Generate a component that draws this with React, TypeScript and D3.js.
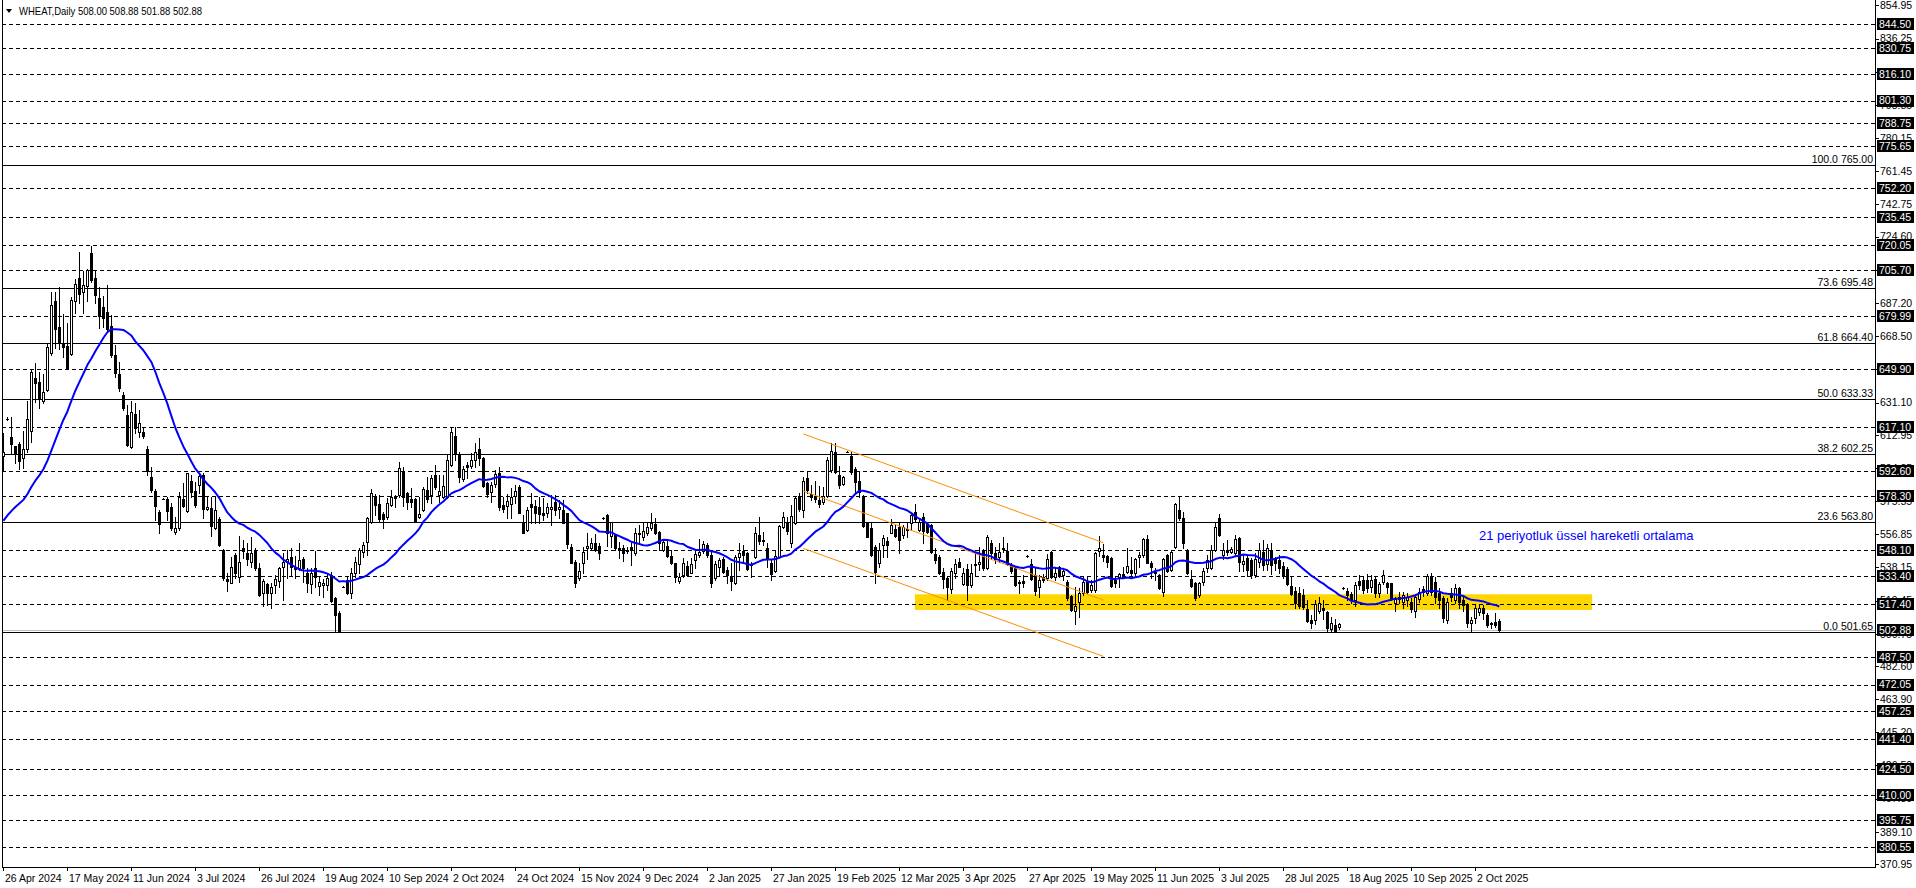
import React from "react";
import * as d3 from "d3";

// ---------------- DATA ----------------
// closes of the 20 bars before the first visible bar (needed by the 21-bar average)
const PRE_CLOSE = [560, 556, 552, 558, 561, 555, 562, 568, 570, 565, 563, 566, 548, 542, 545, 553, 560, 578, 590, 598];

const OPEN = [
601,621.8,611.5,606.4,607.7,599.6,604.9,615.2,644.9,642.5,
632.0,638.2,658.8,688.2,673.5,664.9,663.0,658.3,688.5,701.1,
693.6,696.8,715.2,701.1,689.8,685.1,682.3,674.2,657.9,647.2,
635.4,624.1,606.2,624.6,614.3,614.5,604.7,588.9,581.2,569.2,
576.9,576.5,572.0,558.1,560.2,576.5,570.2,587.1,581.2,584.6,
590.1,570.9,571.5,560.2,565.3,548.0,531.4,529.6,545.2,532.9,
548.9,546.1,541.4,547.6,537.6,523.9,528.6,523.5,528.2,530.7,
538.6,541.4,543.8,538.2,537.6,542.7,535.2,528.6,537.6,527.7,
528.3,528.3,533.9,520.7,512.6,527.3,531.1,523.5,534.8,540.1,
547.0,552.7,564.0,578.0,573.9,568.3,566.8,573.4,578.0,579.0,
592.1,579.9,576.7,576.5,566.4,570.5,581.8,579.0,590.3,579.0,
578.0,578.0,595.9,612.2,602.1,587.8,595.9,595.3,598.7,604.7,
599.7,585.6,580.9,585.2,591.6,573.4,572.8,573.9,578.4,583.3,
563.4,559.3,573.9,572.8,572.0,569.0,569.0,570.9,575.2,570.9,
570.5,568.7,549.9,541.4,532.0,540.8,549.3,548.9,552.1,550.2,
565.8,567.7,555.9,556.4,549.0,548.9,548.0,549.9,546.1,556.8,
555.5,557.8,560.2,562.6,558.3,548.0,550.2,544.6,540.5,530.7,
533.9,539.0,535.2,542.3,545.2,547.6,550.8,545.2,532.0,538.2,
542.7,536.7,532.9,529.2,544.2,547.6,546.1,540.1,543.8,556.4,
553.6,548.9,540.5,536.3,544.2,560.8,563.9,552.1,563.0,578.4,
570.5,588.4,579.5,578.4,576.2,575.2,578.4,593.1,603.4,590.3,
585.2,603.4,601.0,593.5,587.1,578.4,563.0,560.2,549.9,540.5,
550.8,553.2,557.8,559.6,561.1,556.4,559.3,563.0,569.6,559.3,
566.8,562.6,562.1,545.7,544.2,535.8,532.0,525.8,535.2,541.4,
528.8,537.1,528.3,540.1,540.1,547.6,537.6,552.1,546.1,544.2,
548.3,547.6,539.5,537.6,529.2,530.5,544.6,540.1,533.9,526.9,
532.9,532.0,547.0,532.9,538.2,533.9,530.1,522.0,513.8,518.9,
523.5,530.1,525.4,525.4,547.6,545.2,544.6,543.3,531.1,532.6,
534.5,535.8,536.7,534.8,543.8,545.2,554.0,540.5,535.2,533.9,
524.5,545.2,536.7,549.5,570.5,565.8,547.6,531.4,529.2,522.6,
530.0,537.6,537.6,548.0,565.8,545.2,548.0,547.0,546.1,554.6,
540.1,543.3,542.3,533.9,541.4,547.0,540.1,548.0,542.7,542.3,
539.0,537.1,527.7,525.0,523.5,522.6,514.5,508.5,508.5,513.8,
515.1,513.2,503.2,505.7,504.4,526.4,525.0,523.2,519.8,530.7,
531.1,531.1,526.9,531.4,523.5,530.1,529.6,529.2,517.9,521.7,
518.9,519.8,518.9,513.8,520.2,525.8,523.5,533.3,530.1,523.5,
520.7,508.5,523.5,519.8,526.4,519.8,517.5,507.0,509.5,513.2,
515.1,511.3,506.6,507.5,508.0
];

const HIGH = [
614.1,623.0,622.8,606.6,609.0,614.9,631.8,650.0,653.2,648.5,
647.2,664.1,693.2,693.6,696.4,681.0,675.8,690.8,700.6,715.8,
705.3,706.2,719.3,705.8,696.4,691.2,697.4,680.4,663.5,653.8,
637.2,629.7,632.2,630.7,626.9,617.5,606.6,594.6,582.2,570.5,
577.5,578.0,574.3,566.8,580.9,585.9,591.6,590.3,586.5,591.2,
591.2,578.4,578.0,578.0,566.8,548.3,534.8,544.2,546.1,555.9,
553.6,551.7,555.5,548.9,540.4,531.4,529.2,529.2,533.9,538.6,
546.1,548.0,548.9,544.6,551.7,544.2,537.6,537.6,547.6,532.9,
531.4,535.2,535.8,521.7,513.6,527.8,532.9,537.6,543.8,548.9,
552.7,566.8,582.2,579.5,579.0,569.6,577.1,581.8,579.0,597.8,
595.0,580.9,582.7,577.1,578.0,583.3,588.9,590.3,595.9,590.3,
590.3,601.5,617.1,617.1,603.4,595.3,597.8,602.5,608.5,610.9,
600.2,586.5,586.5,593.1,595.0,578.0,579.5,582.7,584.6,584.6,
567.7,572.4,579.9,576.2,578.0,577.1,574.3,579.0,579.0,576.2,
576.2,569.0,551.4,542.3,540.5,549.9,557.4,554.6,557.0,551.7,
566.5,568.3,564.0,557.0,552.7,550.8,549.9,551.7,560.2,562.1,
564.0,563.0,568.7,565.8,558.9,553.6,553.6,548.0,540.8,534.8,
543.3,542.0,543.3,548.0,554.0,553.2,551.7,548.0,542.0,543.3,
543.8,538.6,540.8,545.2,551.7,550.8,547.0,541.4,561.1,566.4,
558.3,551.7,542.3,547.6,562.1,569.6,566.8,573.3,578.4,579.9,
588.9,592.1,584.6,587.1,584.1,583.7,600.2,608.5,608.5,595.3,
589.7,604.0,603.4,595.0,592.1,579.0,563.4,563.4,550.8,551.7,
556.4,555.1,565.3,562.1,563.0,562.1,563.0,569.0,573.9,565.8,
568.7,563.4,562.6,548.9,545.2,537.6,532.9,537.6,542.7,543.3,
537.6,540.1,540.1,545.7,549.9,548.3,556.4,553.6,549.9,551.7,
555.5,552.1,540.5,538.6,531.1,533.9,545.2,542.7,537.6,533.9,
534.5,545.7,547.6,537.6,538.9,536.7,531.1,522.6,527.3,526.4,
532.9,532.9,531.1,547.0,555.9,551.4,545.2,543.8,532.9,535.2,
538.6,548.9,544.2,543.3,547.0,554.6,556.4,542.0,537.6,534.5,
543.3,545.7,548.0,574.3,578.4,569.6,548.3,536.7,530.1,530.1,
538.0,545.2,550.8,563.0,568.3,551.7,553.6,549.9,556.4,555.5,
545.2,545.2,543.3,546.5,552.1,553.6,551.4,552.1,544.2,545.2,
541.4,538.2,533.3,527.3,526.9,525.8,519.8,511.3,519.8,521.3,
520.0,513.8,510.4,508.9,506.6,527.0,526.4,524.5,530.1,533.9,
533.3,534.5,533.9,533.3,530.1,536.7,530.1,529.6,521.3,524.5,
524.5,523.5,520.7,523.2,526.4,527.7,534.5,535.2,532.6,526.4,
522.0,520.7,526.4,528.8,527.3,521.3,517.9,510.4,517.0,517.5,
517.0,512.3,507.5,512.6,508.88
];

const LOW = [
593.0,621.5,602.1,597.2,593.5,594.4,603.4,609.0,631.4,627.8,
630.7,637.8,657.9,661.7,661.3,656.6,650.4,657.9,681.8,687.0,
681.8,688.3,699.2,687.0,672.9,673.9,671.1,657.0,645.7,637.8,
626.9,606.6,605.3,613.7,611.9,610.9,590.3,580.9,564.9,557.4,
576.5,564.9,559.3,557.0,559.3,572.4,569.2,578.0,572.4,579.9,
565.8,570.5,555.9,559.6,550.2,531.1,525.0,529.2,532.0,530.1,
543.3,539.5,538.6,536.7,522.0,516.4,517.0,515.1,523.5,527.3,
519.8,532.0,533.9,532.0,536.7,530.1,524.5,523.5,527.3,522.6,
521.7,525.4,518.9,502.5,501.65,527.0,523.2,520.7,532.9,534.8,
543.8,545.2,563.4,567.7,564.0,560.2,565.5,572.8,572.4,578.0,
572.8,570.9,572.4,563.9,565.8,570.0,575.2,574.7,582.2,575.2,
577.1,577.1,595.3,598.7,586.5,587.1,588.4,594.0,595.0,595.9,
583.7,578.0,575.2,583.3,570.5,569.6,565.8,565.8,574.3,568.7,
557.4,558.9,563.4,563.4,563.0,564.9,566.8,562.1,567.7,565.8,
563.0,548.9,540.5,527.3,531.1,534.8,542.7,548.0,547.6,542.7,
565.5,550.2,549.9,548.0,543.3,542.0,546.1,539.5,545.2,552.7,
553.6,556.4,559.3,557.0,548.0,547.6,544.2,540.1,530.1,529.2,
532.9,533.3,534.8,537.6,544.2,546.5,544.2,526.9,531.1,533.9,
534.8,529.2,525.4,528.8,536.7,540.5,536.7,532.9,543.3,551.4,
550.8,538.6,531.1,535.8,543.8,560.2,557.0,549.9,562.6,570.1,
566.4,580.3,576.2,575.2,572.4,573.9,577.7,592.1,591.2,582.7,
584.6,603.0,590.8,580.9,578.0,561.1,555.1,544.6,529.6,538.6,
544.2,544.2,557.4,555.1,546.1,554.6,555.5,559.3,563.9,558.9,
551.7,557.4,546.5,540.5,534.5,526.4,519.8,523.5,532.0,538.2,
528.2,519.8,527.3,533.3,536.7,536.7,537.1,542.7,540.5,541.4,
547.0,539.5,535.2,527.7,523.9,527.3,544.2,531.1,522.6,521.7,
530.1,531.1,532.0,531.1,532.9,531.1,519.8,513.8,506.3,510.4,
522.6,523.5,524.5,524.5,544.6,542.0,538.6,527.3,526.9,527.3,
532.0,535.2,533.9,532.9,538.6,543.8,540.5,532.0,531.1,525.8,
522.0,535.8,536.3,548.9,564.9,548.9,534.5,527.3,519.8,521.7,
528.0,535.8,537.1,547.6,555.9,542.7,545.2,546.1,544.6,536.3,
536.3,533.3,532.0,532.9,538.6,536.7,536.7,534.5,536.7,535.2,
532.0,528.3,522.6,515.5,515.1,514.9,507.5,503.8,506.3,512.3,
508.9,502.5,501.9,502.0,503.2,526.0,520.0,518.0,516.4,525.8,
523.5,524.5,524.5,521.7,521.3,528.8,523.5,519.8,513.6,518.3,
515.5,516.4,513.2,510.4,518.9,522.0,522.6,522.6,518.3,515.1,
507.5,506.6,519.4,517.9,515.5,513.6,504.4,501.9,507.0,511.3,
508.9,504.4,503.8,504.7,501.88
];

const CLOSE = [
603.4,622.0,607.5,602.1,598.3,604.7,621.6,648.1,642.3,633.5,
637.2,662.2,686.1,672.4,664.5,662.2,650.8,688.7,697.7,692.1,
697.2,705.8,700.2,691.7,679.9,678.6,672.4,657.9,647.6,639.5,
627.8,607.2,625.9,616.6,619.8,612.2,592.7,581.8,573.0,562.6,
577.0,570.2,560.2,560.2,578.0,572.8,591.2,580.9,573.4,589.9,
570.9,572.4,561.7,570.5,550.8,532.0,530.7,538.6,534.8,541.4,
547.6,542.7,546.1,537.6,522.6,530.7,523.9,527.3,531.4,537.6,
541.0,542.7,538.6,537.1,542.3,537.6,529.2,535.2,532.9,530.1,
529.6,532.0,519.4,511.3,501.9,527.3,523.5,534.8,541.0,548.0,
550.8,565.8,580.3,573.3,565.3,565.3,574.3,577.7,577.1,594.0,
578.0,575.2,575.2,564.5,568.3,582.2,576.9,588.4,583.3,581.4,
584.1,598.7,614.7,602.1,589.3,593.5,594.9,598.7,603.4,599.7,
584.1,579.5,584.6,590.8,572.4,570.9,575.8,578.0,581.4,569.0,
557.8,570.5,572.0,568.7,568.1,567.7,572.4,572.0,570.5,572.4,
563.4,551.4,540.8,529.6,536.1,547.0,550.2,551.7,548.0,546.1,
565.8,557.4,564.0,548.9,548.0,546.1,547.6,548.0,557.8,557.4,
558.9,561.1,563.0,557.8,552.1,552.7,544.6,540.5,532.6,532.6,
540.5,533.9,540.1,545.7,547.0,551.4,545.2,529.2,540.1,542.3,
535.8,533.9,530.7,544.2,546.5,545.2,537.1,539.5,557.8,553.2,
553.2,543.3,534.5,544.6,561.5,566.4,558.9,567.1,577.1,570.9,
587.1,581.8,577.7,576.5,573.9,578.4,598.7,604.0,592.1,584.6,
588.9,603.4,592.1,586.5,580.9,561.5,555.5,545.2,535.8,548.0,
554.6,550.8,562.1,555.9,553.6,561.1,560.0,567.7,565.3,564.0,
558.9,558.3,547.0,542.3,534.8,531.4,527.3,536.3,540.1,538.6,
535.2,528.3,535.2,539.5,541.4,537.6,555.1,546.1,542.7,547.0,
548.9,540.1,536.3,528.3,530.1,529.2,544.6,531.4,525.0,531.1,
531.1,542.7,532.6,535.2,533.3,536.3,520.7,514.2,516.4,523.9,
530.1,524.5,528.3,546.5,548.9,543.8,541.4,527.7,529.2,534.5,
532.9,538.9,534.8,542.7,545.2,554.0,540.8,538.6,535.8,526.4,
542.7,536.3,547.0,573.9,565.8,551.7,534.8,527.7,520.7,529.2,
536.0,542.3,548.0,561.1,556.4,548.0,547.0,548.3,554.0,541.4,
541.8,536.7,533.9,542.7,548.0,539.5,548.9,539.5,540.5,537.6,
533.3,528.8,523.2,517.9,516.4,516.0,508.1,507.0,517.5,518.3,
514.1,503.8,506.6,502.5,506.3,526.4,522.6,519.8,528.3,528.3,
525.4,526.4,531.1,523.5,528.8,533.9,527.3,520.7,520.2,520.2,
522.6,521.7,514.5,521.7,524.5,524.5,533.3,524.5,521.7,519.8,
509.5,518.9,521.7,526.4,518.9,517.0,506.6,508.5,515.1,515.1,
512.3,505.7,506.3,505.7,502.88
];

const DATE_LABELS = [
  "26 Apr 2024", "17 May 2024", "11 Jun 2024", "3 Jul 2024", "26 Jul 2024",
  "19 Aug 2024", "10 Sep 2024", "2 Oct 2024", "24 Oct 2024", "15 Nov 2024",
  "9 Dec 2024", "2 Jan 2025", "27 Jan 2025", "19 Feb 2025", "12 Mar 2025",
  "3 Apr 2025", "27 Apr 2025", "19 May 2025", "11 Jun 2025", "3 Jul 2025",
  "28 Jul 2025", "18 Aug 2025", "10 Sep 2025", "2 Oct 2025",
];
const DATE_LABEL_STEP = 16;

const PRICE_TICKS = [
  854.95, 836.25, 817.55, 798.85, 780.15, 761.45, 742.75, 724.6, 705.9, 687.2,
  668.5, 649.8, 631.1, 612.95, 594.25, 575.55, 556.85, 538.15, 519.45, 500.75,
  482.6, 463.9, 445.2, 426.5, 407.8, 389.1, 370.95,
];

const LEVELS = [
  844.5, 830.75, 816.1, 801.3, 788.75, 775.65, 752.2, 735.45, 720.05, 705.7,
  679.99, 649.9, 617.1, 592.6, 578.3, 548.1, 533.4, 517.4, 487.5, 472.05,
  457.25, 441.4, 424.5, 410.0, 395.75, 380.55,
];

const FIB_RATIOS = ["100.0", "73.6", "61.8", "50.0", "38.2", "23.6", "0.0"];
const FIB_PRICES = [765.0, 695.48, 664.4, 633.33, 602.25, 563.8, 501.65];

const BID = 502.88;
const SYMBOL = "WHEAT,Daily";

const CHANNEL_BARS = [200, 275];
const CHANNEL_START = [613.4, 581.2, 548.9];
const CHANNEL_END = [552.1, 519.8, 488.0];

const ZONE_BARS = [227.9, 397.2];
const ZONE_PRICES = [523.0, 514.2];

const MA_PERIOD = 21;
const MA_LABEL = "21 periyotluk üssel hareketli ortalama";
const MA_LABEL_BAR = 368.9;
const MA_LABEL_PRICE = 553.6;

// ---------------- CHART ----------------
const W = 1916;
const H = 888;
const PLOT_L = 2;
const PLOT_R = 1875;
const PLOT_B = 867;
const FONT = "Tahoma, 'Liberation Sans', Arial, sans-serif";

export default function App() {
  const n = CLOSE.length;
  const x = d3.scaleLinear().domain([0, n - 1]).range([3.33, 3.33 + 4 * (n - 1)]);
  const y = d3.scaleLinear().domain([844.5, 380.55]).range([24, 847]);
  const py = (v: number) => Math.round(y(v)) + 0.5;

  const all = PRE_CLOSE.concat(CLOSE);
  const off = PRE_CLOSE.length;
  const ma = CLOSE.map((_, i) => d3.mean(all.slice(i + off - MA_PERIOD + 1, i + off + 1)) as number);
  const maPath = d3
    .line<number>()
    .x((_, i) => x(i))
    .y((v) => y(v))(ma) as string;

  const title = `${SYMBOL}  ${OPEN[n - 1].toFixed(2)} ${HIGH[n - 1].toFixed(2)} ${LOW[n - 1].toFixed(2)} ${CLOSE[n - 1].toFixed(2)}`;

  return (
    <svg
      width={W}
      height={H}
      style={{ position: "fixed", left: 0, top: 0, background: "#fff", display: "block" }}
      fontFamily={FONT}
    >
      <rect x={0} y={0} width={W} height={H} fill="#fff" />
      <defs>
        <clipPath id="plot">
          <rect x={PLOT_L + 1} y={0} width={PLOT_R - PLOT_L - 1} height={PLOT_B} />
        </clipPath>
      </defs>

      <g clipPath="url(#plot)">
        <rect
          x={x(ZONE_BARS[0])}
          y={y(ZONE_PRICES[0])}
          width={x(ZONE_BARS[1]) - x(ZONE_BARS[0])}
          height={y(ZONE_PRICES[1]) - y(ZONE_PRICES[0])}
          fill="#FFD700"
        />
        {LEVELS.map((v) => (
          <line key={"lv" + v} x1={PLOT_L} x2={PLOT_R} y1={py(v)} y2={py(v)} stroke="#000" strokeDasharray="4,3" />
        ))}
        <line x1={PLOT_L} x2={PLOT_R} y1={py(BID)} y2={py(BID)} stroke="#C0C0C0" />
        {FIB_PRICES.map((v, i) => (
          <g key={"fb" + i}>
            <line x1={PLOT_L} x2={PLOT_R} y1={py(v)} y2={py(v)} stroke="#000" />
            <text x={PLOT_R - 2} y={Math.round(y(v)) - 2} textAnchor="end" fontSize={10.5} fill="#000">
              {FIB_RATIOS[i]} {v.toFixed(2)}
            </text>
          </g>
        ))}
        {CLOSE.map((c, i) => {
          const o = OPEN[i];
          const cx = Math.round(x(i));
          const top = Math.round(y(Math.max(o, c)));
          const bot = Math.round(y(Math.min(o, c)));
          const bull = c >= o;
          return (
            <g key={"c" + i}>
              <line x1={cx + 0.5} x2={cx + 0.5} y1={Math.round(y(HIGH[i]))} y2={Math.round(y(LOW[i])) + 1} stroke="#000" />
              {bot - top < 1 ? (
                <line x1={cx - 1} x2={cx + 2} y1={top + 0.5} y2={top + 0.5} stroke="#000" />
              ) : bull ? (
                <rect x={cx - 0.5} y={top + 0.5} width={2} height={bot - top} fill="#fff" stroke="#000" />
              ) : (
                <rect x={cx - 1} y={top} width={3} height={bot - top + 1} fill="#000" />
              )}
            </g>
          );
        })}
        {CHANNEL_START.map((p, i) => (
          <line
            key={"ch" + i}
            x1={x(CHANNEL_BARS[0])}
            y1={y(p)}
            x2={x(CHANNEL_BARS[1])}
            y2={y(CHANNEL_END[i])}
            stroke="#FF8C00"
            strokeWidth={1}
          />
        ))}
        <path d={maPath} fill="none" stroke="#0000FF" strokeWidth={2} strokeLinejoin="round" />
        <text x={x(MA_LABEL_BAR)} y={y(MA_LABEL_PRICE)} fontSize={13} fill="#0000FF" fontFamily="'Liberation Sans', Arial, sans-serif">
          {MA_LABEL}
        </text>
      </g>

      <line x1={PLOT_L + 0.5} x2={PLOT_L + 0.5} y1={0} y2={PLOT_B} stroke="#000" />
      <line x1={PLOT_L} x2={PLOT_R + 1} y1={PLOT_B + 0.5} y2={PLOT_B + 0.5} stroke="#000" />
      <line x1={PLOT_R + 0.5} x2={PLOT_R + 0.5} y1={0} y2={PLOT_B + 1} stroke="#000" />

      <path d="M6,9 L12,9 L9,13 Z" fill="#000" />
      <text x={19} y={15} fontSize={10.5} fill="#000" textLength={183} lengthAdjust="spacingAndGlyphs">
        {title}
      </text>

      {PRICE_TICKS.map((v) => (
        <g key={"pt" + v}>
          <line x1={PLOT_R} x2={PLOT_R + 4} y1={py(v)} y2={py(v)} stroke="#000" />
          <text x={PLOT_R + 5} y={y(v)} dy="0.36em" fontSize={10.5} fill="#000">
            {v.toFixed(2)}
          </text>
        </g>
      ))}
      {[...LEVELS, BID].map((v) => (
        <g key={"lb" + v}>
          <rect x={PLOT_R + 2} y={Math.round(y(v)) - 6} width={37} height={12} fill="#000" />
          <text x={PLOT_R + 4} y={y(v)} dy="0.36em" fontSize={10.5} fill="#fff">
            {v.toFixed(2)}
          </text>
        </g>
      ))}

      {DATE_LABELS.map((d, i) => {
        const xx = Math.round(x(i * DATE_LABEL_STEP));
        return (
          <g key={"dl" + i}>
            <line x1={xx + 0.5} x2={xx + 0.5} y1={PLOT_B} y2={PLOT_B + 4} stroke="#000" />
            <text x={xx + 2} y={PLOT_B + 15} fontSize={10.5} fill="#000">
              {d}
            </text>
          </g>
        );
      })}
    </svg>
  );
}
